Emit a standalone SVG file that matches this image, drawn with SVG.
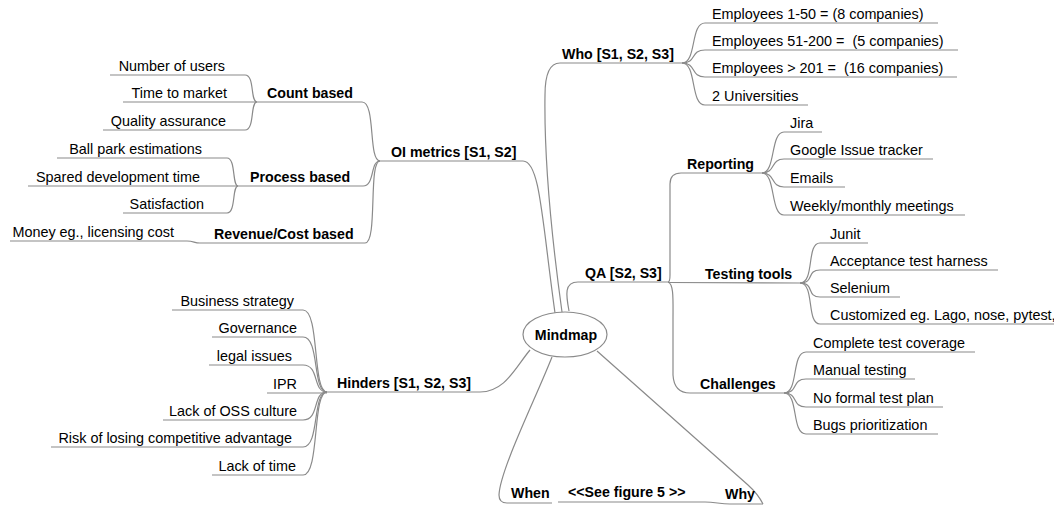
<svg xmlns="http://www.w3.org/2000/svg" width="1054" height="506" viewBox="0 0 1054 506">
  <style>
    text { font-family: "Liberation Sans", Arial, sans-serif; font-size: 14.4px; fill: #000; }
    .b { font-weight: bold; font-size: 14.2px; }
    .e { text-anchor: end; }
    .m { text-anchor: middle; }
    line, path, ellipse { stroke: #8a8a8a; stroke-width: 1.2; fill: none; }
    ellipse { fill: #fff; }
  </style>
  <rect width="1054" height="506" fill="#fff"/>

  <!-- curved links between nodes -->
  <g id="connectors">
    <!-- root to main branches -->
    <path d="M523,161 C540,161 542,220 555,313"/>
    <path d="M562,312 C552,240 544,160 545,95 Q545,63 560,63"/>
    <path d="M569,311 C566,295 564,282 578,282"/>
    <path d="M480,392 C505,392 515,368 530,350"/>
    <path d="M552,357 C535,400 500,470 499,495 Q499,503 507,503"/>
    <path d="M597,351 L748,485 Q758,494 763,504"/>
    <path d="M705,502 C715,502 720,504 730,504"/>

    <!-- OI metrics -->
    <path d="M362,102 C376,102 368,161 380,161"/>
    <path d="M363,186 C375,186 370,161 380,161"/>
    <path d="M365,243 C378,243 368,161 380,161"/>
    <path d="M245,75 C255,75 250,102 257,102"/>
    <path d="M245,130 C255,130 250,102 257,102"/>
    <path d="M227,158 C236,158 232,186 238,186"/>
    <path d="M227,213 C236,213 232,186 238,186"/>
    <path d="M187,241 C194,241 194,243 200,243"/>

    <!-- Hinders -->
    <path d="M303,310 C320,310 312,392 327,392"/>
    <path d="M303,337 C320,337 312,392 327,392"/>
    <path d="M303,365 C320,365 312,392 327,392"/>
    <path d="M303,420 C320,420 312,392 327,392"/>
    <path d="M303,447 C320,447 312,392 327,392"/>
    <path d="M303,475 C320,475 312,392 327,392"/>

    <!-- Who -->
    <path d="M682,63 C697,63 690,23 705,23"/>
    <path d="M682,63 C697,63 690,50 705,50"/>
    <path d="M682,63 C697,63 690,77 705,77"/>
    <path d="M682,63 C697,63 690,105 705,105"/>

    <!-- QA -->
    <path d="M668,282 Q670,282 670,275 L670,184 Q670,173 681,173"/>
    <path d="M668,282 C674,284 673,300 673,320 L673,375 Q674,393 690,393"/>
    <path d="M762,173 C776,173 770,132 784,132"/>
    <path d="M762,173 C776,173 770,159 784,159"/>
    <path d="M762,173 C776,173 770,187 784,187"/>
    <path d="M762,173 C776,173 770,215 784,215"/>
    <path d="M800,283 C815,283 806,243 820,243"/>
    <path d="M800,283 C815,283 806,270 820,270"/>
    <path d="M800,283 C815,283 806,297 820,297"/>
    <path d="M800,283 C815,283 806,324 820,324"/>
    <path d="M784,393 C799,393 791,352 806,352"/>
    <path d="M784,393 C799,393 791,379 806,379"/>
    <path d="M784,393 C799,393 791,407 806,407"/>
    <path d="M784,393 C799,393 791,434 806,434"/>
  </g>

  <g id="n-root">
    <ellipse cx="565" cy="334.5" rx="42" ry="22.5"/>
    <text class="b m" x="566" y="340">Mindmap</text>
  </g>

  <!-- OI metrics branch -->
  <g id="n-oi"><line x1="380" y1="161" x2="523" y2="161"/><text class="b" x="391" y="157">OI metrics [S1, S2]</text></g>
  <g id="n-count"><line x1="257" y1="102" x2="362" y2="102"/><text class="b" x="267" y="98">Count based</text></g>
  <g id="n-users"><line x1="110" y1="75" x2="245" y2="75"/><text class="e" x="225" y="71">Number of users</text></g>
  <g id="n-ttm"><line x1="123" y1="102" x2="257" y2="102"/><text class="e" x="227" y="98">Time to market</text></g>
  <g id="n-qual"><line x1="103" y1="130" x2="245" y2="130"/><text class="e" x="226" y="126">Quality assurance</text></g>
  <g id="n-process"><line x1="238" y1="186" x2="363" y2="186"/><text class="b" x="250" y="182">Process based</text></g>
  <g id="n-ballpark"><line x1="57" y1="158" x2="227" y2="158"/><text class="e" x="202" y="154">Ball park estimations</text></g>
  <g id="n-spared"><line x1="28" y1="186" x2="238" y2="186"/><text class="e" x="200" y="182">Spared development time</text></g>
  <g id="n-satis"><line x1="123" y1="213" x2="227" y2="213"/><text class="e" x="204" y="209">Satisfaction</text></g>
  <g id="n-revenue"><line x1="200" y1="243" x2="365" y2="243"/><text class="b" x="214" y="239">Revenue/Cost based</text></g>
  <g id="n-money"><line x1="10" y1="241" x2="187" y2="241"/><text class="e" x="174" y="237">Money eg., licensing cost</text></g>

  <!-- Hinders branch -->
  <g id="n-hinders"><line x1="327" y1="392" x2="480" y2="392"/><text class="b" x="337" y="388">Hinders [S1, S2, S3]</text></g>
  <g id="n-biz"><line x1="172" y1="310" x2="303" y2="310"/><text class="e" x="294" y="306">Business strategy</text></g>
  <g id="n-gov"><line x1="212" y1="337" x2="303" y2="337"/><text class="e" x="297" y="333">Governance</text></g>
  <g id="n-legal"><line x1="209" y1="365" x2="303" y2="365"/><text class="e" x="292" y="361">legal issues</text></g>
  <g id="n-ipr"><line x1="267" y1="393" x2="327" y2="393"/><text class="e" x="297" y="389">IPR</text></g>
  <g id="n-oss"><line x1="163" y1="420" x2="303" y2="420"/><text class="e" x="297" y="416">Lack of OSS culture</text></g>
  <g id="n-risk"><line x1="51" y1="447" x2="303" y2="447"/><text class="e" x="292" y="443">Risk of losing competitive advantage</text></g>
  <g id="n-time"><line x1="212" y1="475" x2="303" y2="475"/><text class="e" x="296" y="471">Lack of time</text></g>

  <!-- Who branch -->
  <g id="n-who"><line x1="560" y1="63" x2="682" y2="63"/><text class="b" x="562" y="59">Who [S1, S2, S3]</text></g>
  <g id="n-emp1"><line x1="705" y1="23" x2="938" y2="23"/><text x="712" y="19">Employees 1-50 = (8 companies)</text></g>
  <g id="n-emp2"><line x1="705" y1="50" x2="958" y2="50"/><text x="712" y="46" xml:space="preserve">Employees 51-200 =  (5 companies)</text></g>
  <g id="n-emp3"><line x1="705" y1="77" x2="957" y2="77"/><text x="712" y="73" xml:space="preserve">Employees &gt; 201 =  (16 companies)</text></g>
  <g id="n-univ"><line x1="705" y1="105" x2="808" y2="105"/><text x="712" y="101">2 Universities</text></g>

  <!-- QA branch -->
  <g id="n-qa"><line x1="578" y1="282" x2="668" y2="282"/><text class="b" x="585" y="278">QA [S2, S3]</text></g>
  <g id="n-reporting"><line x1="681" y1="173" x2="762" y2="173"/><text class="b" x="687" y="169">Reporting</text></g>
  <g id="n-jira"><line x1="784" y1="132" x2="822" y2="132"/><text x="790" y="128">Jira</text></g>
  <g id="n-google"><line x1="784" y1="159" x2="933" y2="159"/><text x="790" y="155">Google Issue tracker</text></g>
  <g id="n-emails"><line x1="784" y1="187" x2="845" y2="187"/><text x="790" y="183">Emails</text></g>
  <g id="n-weekly"><line x1="784" y1="215" x2="965" y2="215"/><text x="790" y="211">Weekly/monthly meetings</text></g>
  <g id="n-testing"><line x1="668" y1="282.5" x2="800" y2="283"/><text class="b" x="705" y="279">Testing tools</text></g>
  <g id="n-junit"><line x1="820" y1="243" x2="868" y2="243"/><text x="830" y="239">Junit</text></g>
  <g id="n-accept"><line x1="820" y1="270" x2="998" y2="270"/><text x="830" y="266">Acceptance test harness</text></g>
  <g id="n-selenium"><line x1="820" y1="297" x2="900" y2="297"/><text x="830" y="293">Selenium</text></g>
  <g id="n-custom"><line x1="820" y1="324" x2="1054" y2="324"/><text x="830" y="320">Customized eg. Lago, nose, pytest,</text></g>
  <g id="n-challenges"><line x1="690" y1="393" x2="784" y2="393"/><text class="b" x="700" y="389">Challenges</text></g>
  <g id="n-coverage"><line x1="806" y1="352" x2="975" y2="352"/><text x="813" y="348">Complete test coverage</text></g>
  <g id="n-manual"><line x1="806" y1="379" x2="915" y2="379"/><text x="813" y="375">Manual testing</text></g>
  <g id="n-plan"><line x1="806" y1="407" x2="943" y2="407"/><text x="813" y="403">No formal test plan</text></g>
  <g id="n-bugs"><line x1="806" y1="434" x2="938" y2="434"/><text x="813" y="430">Bugs prioritization</text></g>

  <!-- When / Why branch -->
  <g id="n-when"><line x1="507" y1="503" x2="552" y2="503"/><text class="b" x="511" y="498">When</text></g>
  <g id="n-see"><line x1="558" y1="502" x2="705" y2="502"/><text class="b" x="568" y="497">&lt;&lt;See figure 5 &gt;&gt;</text></g>
  <g id="n-why"><line x1="730" y1="504" x2="763" y2="504"/><text class="b" x="725" y="499">Why</text></g>
</svg>
